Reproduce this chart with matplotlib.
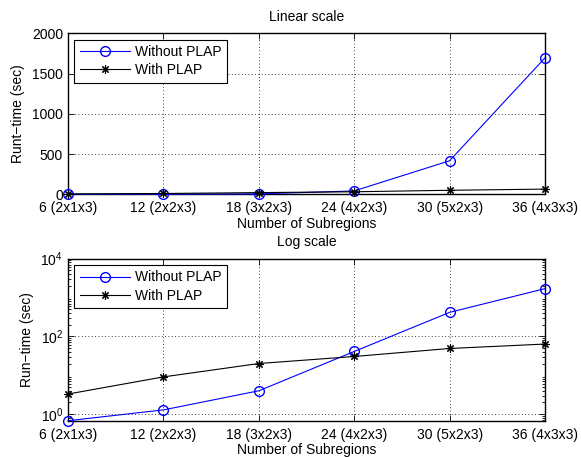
import matplotlib
matplotlib.use("Agg")
import matplotlib.pyplot as plt
from matplotlib.ticker import LogLocator, NullFormatter

plt.rcParams['font.family'] = ['Liberation Sans', 'DejaVu Sans']

subregions = [6, 12, 18, 24, 30, 36]
tick_labels = ['6 (2x1x3)', '12 (2x2x3)', '18 (3x2x3)', '24 (4x2x3)', '30 (5x2x3)', '36 (4x3x3)']
without_plap = [0.68, 1.29, 4.0, 41, 416, 1695]
with_plap = [3.3, 9.1, 20.1, 30.5, 49, 63.7]

fig = plt.figure(figsize=(5.81, 4.57), dpi=100)
fs = 10
star = (8, 2, 0)

def style(ax):
    ax.set_xlim(6, 36)
    ax.set_xticks(subregions)
    ax.set_xticklabels(tick_labels, fontsize=fs)
    ax.tick_params(axis='both', which='both', direction='in', top=True, right=True,
                   labelsize=fs, width=0.6, pad=3.5)
    ax.tick_params(axis='x', which='major', pad=5)
    ax.tick_params(axis='both', which='major', length=4)
    ax.tick_params(axis='both', which='minor', length=2)
    ax.grid(True, which='major', linestyle=(0, (1, 3)), color='black', linewidth=0.6)
    for s in ax.spines.values():
        s.set_linewidth(1.0)
    ax.set_xlabel('Number of Subregions', fontsize=fs, labelpad=1)

def legend(ax):
    leg = ax.legend(loc='upper left', fontsize=fs, fancybox=False, edgecolor='black',
                    framealpha=1, borderpad=0.4, handlelength=3.6, handletextpad=0.35,
                    labelspacing=0.3, borderaxespad=0.45)
    leg.get_frame().set_linewidth(0.8)

ax1 = fig.add_axes([0.117, 0.575, 0.821, 0.352])
ax1.plot(subregions, without_plap, color='blue', marker='o', markerfacecolor='none',
         markersize=7, linewidth=0.8, label='Without PLAP', clip_on=False, zorder=3)
ax1.plot(subregions, with_plap, color='black', marker=star, markersize=6,
         markeredgewidth=0.8, linewidth=0.8, label='With PLAP', clip_on=False, zorder=3)
ax1.set_ylim(0, 2000)
ax1.set_yticks([0, 500, 1000, 1500, 2000])
style(ax1)
ax1.set_ylabel('Runt\u2212time (sec)', fontsize=fs, labelpad=5)
ax1.set_title('Linear scale', fontsize=fs, pad=9)
legend(ax1)

ax2 = fig.add_axes([0.117, 0.0794, 0.821, 0.3546])
ax2.semilogy(subregions, without_plap, color='blue', marker='o', markerfacecolor='none',
             markersize=7, linewidth=0.8, label='Without PLAP', clip_on=False, zorder=3)
ax2.semilogy(subregions, with_plap, color='black', marker=star, markersize=6,
             markeredgewidth=0.8, linewidth=0.8, label='With PLAP', clip_on=False, zorder=3)
ax2.set_ylim(0.68, 1e4)
ax2.set_yticks([1, 1e2, 1e4])
ax2.yaxis.set_minor_locator(LogLocator(base=10, subs=range(2, 10), numticks=20))
ax2.yaxis.set_minor_formatter(NullFormatter())
style(ax2)
ax2.set_ylabel('Run\u2212time (sec)', fontsize=fs, labelpad=5)
ax2.set_title('Log scale', fontsize=fs, pad=9)
legend(ax2)

fig.savefig('out.png', dpi=100)
